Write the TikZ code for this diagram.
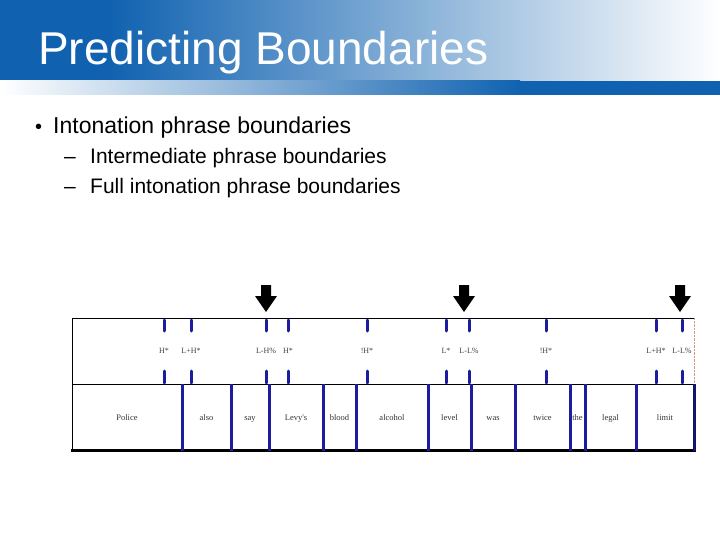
\documentclass[tikz,border=0pt]{standalone}
\usepackage{fontspec}
\setmainfont{Liberation Sans}
\newfontfamily\tierfont{Liberation Serif}
\usepackage{tikz}
\definecolor{slideblue}{RGB}{16,98,176}
\definecolor{tierblue}{RGB}{28,28,158}

\begin{document}
\begin{tikzpicture}[x=1pt,y=-1pt,
  tonemark/.style={draw=tierblue,line width=3pt,line cap=round},
  wordbar/.style={draw=tierblue,line width=3pt},
  tonelab/.style={font=\tierfont\fontsize{8}{9}\selectfont,text=black!75,inner sep=0pt,anchor=base},
  wordlab/.style={font=\tierfont\fontsize{8.5}{10}\selectfont,text=black!80,inner sep=0pt,anchor=base},
  slidetext/.style={anchor=base west,inner sep=0pt}]
\useasboundingbox (0,0) rectangle (720,540);

% title bar
\fill[slideblue] (0,0) rectangle (110,81);
\shade[left color=slideblue,right color=white] (110,0) rectangle (720,81);
\shade[left color=white,right color=slideblue] (0,81) rectangle (520,95);
\fill[slideblue] (520,81) rectangle (720,95);
\node[slidetext,text=white,font=\fontsize{46}{50}\selectfont] (title) at (38,65) {Predicting Boundaries};

% bullets
\node[slidetext,font=\fontsize{20}{22}\selectfont] (dot) at (35,134) {•};
\node[slidetext,font=\fontsize{23}{26}\selectfont] (lvl1) at (53,134) {Intonation phrase boundaries};
\node[slidetext,font=\fontsize{21}{24}\selectfont] (dash1) at (64,164) {–};
\node[slidetext,font=\fontsize{21}{24}\selectfont] (lvl2a) at (90,164) {Intermediate phrase boundaries};
\node[slidetext,font=\fontsize{21}{24}\selectfont] (dash2) at (64,194) {–};
\node[slidetext,font=\fontsize{21}{24}\selectfont] (lvl2b) at (90,194) {Full intonation phrase boundaries};

% tiers frame
\draw[thin] (72,318) -- (694,318);
\draw[thin] (72,384) -- (694,384);
\draw[thin] (72,318) -- (72,450);
\draw[line width=3pt] (71,450) -- (696,450);
\draw[densely dotted,brown!60!pink] (694,318) -- (694,384);
\draw[wordbar,draw=tierblue!70!black] (694,384) -- (694,451);

% tone tier
\foreach \x/\t in {164/H*,191/L+H*,266/L-H\%,288/H*,367/!H*,446/L*,469/L-L\%,546/!H*,656/L+H*,682/L-L\%}{
  \draw[tonemark] (\x,320) -- (\x,331);
  \draw[tonemark] (\x,371) -- (\x,383);
  \node[tonelab] (tone-\x) at (\x,353) {\t};
}

% word tier
\foreach \x in {182,231,269,323,356,428,471,515,570,585,636}
  \draw[wordbar] (\x,384) -- (\x,451);
\foreach \a/\b/\w [count=\i] in {72/182/Police,182/231/also,231/269/say,269/323/Levy's,323/356/blood,356/428/alcohol,428/471/level,471/515/was,515/570/twice,570/585/the,585/636/legal,636/694/limit}
  \node[wordlab] (word\i) at ({(\a+\b)/2},420) {\w};

% boundary arrows
\foreach \x in {266,464,680}
  \fill (\x-5,285) -- (\x+5,285) -- (\x+5,296) -- (\x+11,296) -- (\x,312) -- (\x-11,296) -- (\x-5,296) -- cycle;

\end{tikzpicture}
\end{document}
